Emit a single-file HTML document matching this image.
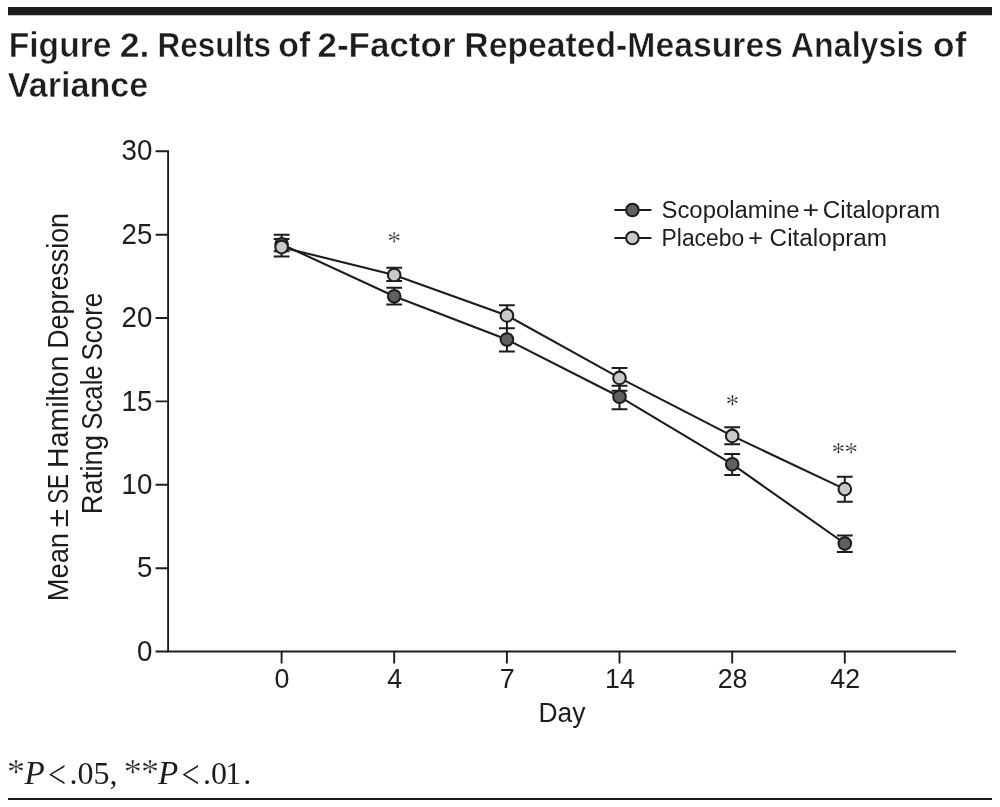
<!DOCTYPE html>
<html lang="en">
<head>
<meta charset="utf-8">
<title>Figure 2. Results of 2-Factor Repeated-Measures Analysis of Variance</title>
<style>
  html, body { margin: 0; padding: 0; background: #ffffff; }
  body { width: 1000px; height: 807px; overflow: hidden; position: relative; }
  svg { position: absolute; left: 0; top: 0; display: block; }
  .sans { font-family: "Liberation Sans", "DejaVu Sans", sans-serif; fill: #1d1d1b; }
  .serif { font-family: "Liberation Serif", "DejaVu Serif", serif; fill: #1d1d1b; }
  .title { font-weight: bold; font-size: 35px; stroke: #ffffff; stroke-width: 0.5px; }
  .ax { font-size: 28.6px; }
  .lg { font-size: 23px; }
  .ln { stroke: #1d1d1b; stroke-width: 2.1; fill: none; }
  .eb { stroke: #1d1d1b; stroke-width: 2; fill: none; }
  .dk { fill: #606060; stroke: #1d1d1b; stroke-width: 2.05; }
  .lt { fill: #c9c9c9; stroke: #1d1d1b; stroke-width: 2.05; }
</style>
</head>
<body>
<svg width="1000" height="807" viewBox="0 0 1000 807">
  <rect x="0" y="0" width="1000" height="807" fill="#ffffff"/>
  <!-- top and bottom rules -->
  <rect x="8" y="7" width="984" height="8.25" fill="#1d1d1b"/>
  <rect x="8" y="798" width="984" height="2" fill="#1d1d1b"/>

  <!-- title -->
  <text class="sans title" y="57.2" lengthAdjust="spacingAndGlyphs"><tspan x="8.7" textLength="102.8" lengthAdjust="spacingAndGlyphs">Figure</tspan> <tspan x="119.7" textLength="29.8" lengthAdjust="spacingAndGlyphs">2.</tspan> <tspan x="157.6" textLength="113.5" lengthAdjust="spacingAndGlyphs">Results</tspan> <tspan x="278.2" textLength="32" lengthAdjust="spacingAndGlyphs">of</tspan> <tspan x="317.5" textLength="138" lengthAdjust="spacingAndGlyphs">2-Factor</tspan> <tspan x="464.3" textLength="318.6" lengthAdjust="spacingAndGlyphs">Repeated-Measures</tspan> <tspan x="790.8" textLength="132.5" lengthAdjust="spacingAndGlyphs">Analysis</tspan> <tspan x="933.1" textLength="33.3" lengthAdjust="spacingAndGlyphs">of</tspan></text>
  <text class="sans title" x="7.8" y="97.2" textLength="140.4" lengthAdjust="spacingAndGlyphs">Variance</text>

  <!-- axes -->
  <g class="ln" id="axes" style="stroke-width:1.9">
    <path d="M168.1 150.3 V651.5 H956"/>
    <path d="M155.6 151.3 H168.1 M155.6 234.7 H168.1 M155.6 318.0 H168.1 M155.6 401.4 H168.1 M155.6 484.8 H168.1 M155.6 568.2 H168.1 M155.6 651.5 H168.1"/>
    <path d="M281.6 651.5 V663.4 M394.2 651.5 V663.4 M506.9 651.5 V663.4 M619.5 651.5 V663.4 M732.2 651.5 V663.4 M844.8 651.5 V663.4"/>
  </g>

  <!-- y tick labels -->
  <g class="sans ax" text-anchor="end">
    <text x="152.4" y="160.4" textLength="30.8" lengthAdjust="spacingAndGlyphs">30</text>
    <text x="152.4" y="243.8" textLength="30.8" lengthAdjust="spacingAndGlyphs">25</text>
    <text x="152.4" y="327.1" textLength="30.8" lengthAdjust="spacingAndGlyphs">20</text>
    <text x="152.4" y="410.5" textLength="30.8" lengthAdjust="spacingAndGlyphs">15</text>
    <text x="152.4" y="493.9" textLength="30.8" lengthAdjust="spacingAndGlyphs">10</text>
    <text x="152.4" y="577.3" textLength="15.4" lengthAdjust="spacingAndGlyphs">5</text>
    <text x="152.4" y="660.6" textLength="15.4" lengthAdjust="spacingAndGlyphs">0</text>
  </g>
  <!-- x tick labels -->
  <g class="sans ax" text-anchor="middle" style="font-size:27.3px">
    <text x="282" y="687.9" textLength="14.9" lengthAdjust="spacingAndGlyphs">0</text>
    <text x="394.6" y="687.9" textLength="14.9" lengthAdjust="spacingAndGlyphs">4</text>
    <text x="507.3" y="687.9" textLength="14.9" lengthAdjust="spacingAndGlyphs">7</text>
    <text x="619.9" y="687.9" textLength="29.8" lengthAdjust="spacingAndGlyphs">14</text>
    <text x="732.6" y="687.9" textLength="29.8" lengthAdjust="spacingAndGlyphs">28</text>
    <text x="845.2" y="687.9" textLength="29.8" lengthAdjust="spacingAndGlyphs">42</text>
  </g>
  <text class="sans ax" style="font-size:27px" x="538.4" y="721.9" textLength="47" lengthAdjust="spacingAndGlyphs">Day</text>

  <!-- y axis title -->
  <g class="sans ax">
    <text transform="translate(68.4 0) rotate(-90)" y="0"><tspan x="-601.3" textLength="68.3" lengthAdjust="spacingAndGlyphs">Mean</tspan> <tspan x="-527.3" textLength="18.3" lengthAdjust="spacingAndGlyphs">±</tspan> <tspan x="-503.8" textLength="29.8" lengthAdjust="spacingAndGlyphs">SE</tspan> <tspan x="-467.9" textLength="112.2" lengthAdjust="spacingAndGlyphs">Hamilton</tspan> <tspan x="-348.8" textLength="135.8" lengthAdjust="spacingAndGlyphs">Depression</tspan></text>
    <text transform="translate(101.8 0) rotate(-90)" y="0"><tspan x="-514.3" textLength="79.3" lengthAdjust="spacingAndGlyphs">Rating</tspan> <tspan x="-429.8" textLength="64.5" lengthAdjust="spacingAndGlyphs">Scale</tspan> <tspan x="-360.6" textLength="67.9" lengthAdjust="spacingAndGlyphs">Score</tspan></text>
  </g>

  <!-- series lines -->
  <polyline class="ln" points="281.6,244.2 394.2,296.3 506.9,339.5 619.5,396.7 732.2,464.2 844.8,543.5"/>
  <polyline class="ln" points="281.6,247.2 394.2,274.9 506.9,315.4 619.5,377.9 732.2,435.9 844.8,489.1"/>

  <!-- error bars: dark -->
  <g class="eb" id="eb-dark">
    <path d="M281.6 238.9 V251.3 M273.7 238.9 H289.5 M273.7 251.3 H289.5"/>
    <path d="M394.2 287.7 V304.5 M386.3 287.7 H402.1 M386.3 304.5 H402.1"/>
    <path d="M506.9 328.3 V351.6 M499 328.3 H514.8 M499 351.6 H514.8"/>
    <path d="M619.5 385.7 V409.3 M611.6 385.7 H627.4 M611.6 409.3 H627.4"/>
    <path d="M732.2 454 V475 M724.3 454 H740.1 M724.3 475 H740.1"/>
    <path d="M844.8 535.5 V552 M836.9 535.5 H852.7 M836.9 552 H852.7"/>
  </g>
  <!-- error bars: light -->
  <g class="eb" id="eb-light">
    <path d="M281.6 234.8 V256.5 M273.7 234.8 H289.5 M273.7 256.5 H289.5"/>
    <path d="M394.2 267.8 V281 M386.3 267.8 H402.1 M386.3 281 H402.1"/>
    <path d="M506.9 305.2 V328.3 M499 305.2 H514.8"/>
    <path d="M619.5 367.9 V390.8 M611.6 367.9 H627.4 M611.6 390.8 H627.4"/>
    <path d="M732.2 427.3 V444.2 M724.3 427.3 H740.1 M724.3 444.2 H740.1"/>
    <path d="M844.8 476.7 V501.8 M836.9 476.7 H852.7 M836.9 501.8 H852.7"/>
  </g>

  <!-- markers -->
  <g class="dk">
    <circle cx="281.6" cy="244.2" r="6.3"/>
    <circle cx="394.2" cy="296.3" r="6.3"/>
    <circle cx="506.9" cy="339.5" r="6.3"/>
    <circle cx="619.5" cy="396.7" r="6.3"/>
    <circle cx="732.2" cy="464.2" r="6.3"/>
    <circle cx="844.8" cy="543.5" r="6.3"/>
  </g>
  <g class="lt">
    <circle cx="281.6" cy="247.1" r="6.3"/>
    <circle cx="394.2" cy="274.9" r="6.3"/>
    <circle cx="506.9" cy="315.4" r="6.3"/>
    <circle cx="619.5" cy="377.9" r="6.3"/>
    <circle cx="732.2" cy="435.9" r="6.3"/>
    <circle cx="844.8" cy="489.1" r="6.3"/>
  </g>

  <!-- significance marks -->
  <g class="serif" font-size="27.5" text-anchor="middle" stroke="#ffffff" stroke-width="0.3">
    <text x="394.2" y="250.1">*</text>
    <text x="732.3" y="412.7">*</text>
    <text y="461.1"><tspan x="838.4">*</tspan><tspan x="851">*</tspan></text>
  </g>

  <!-- legend -->
  <path class="ln" d="M614.4 210 H651.4 M614.4 238 H651.4"/>
  <circle class="dk" cx="632.4" cy="210" r="6.3"/>
  <circle class="lt" cx="632.4" cy="238" r="6.3"/>
  <text class="sans lg" y="217.6"><tspan x="661.5" textLength="138" lengthAdjust="spacingAndGlyphs">Scopolamine</tspan> <tspan x="802.4" textLength="16.6" lengthAdjust="spacingAndGlyphs">+</tspan> <tspan x="822.8" textLength="117.4" lengthAdjust="spacingAndGlyphs">Citalopram</tspan></text>
  <text class="sans lg" y="246.2"><tspan x="661.6" textLength="82.5" lengthAdjust="spacingAndGlyphs">Placebo</tspan> <tspan x="748" textLength="15" lengthAdjust="spacingAndGlyphs">+</tspan> <tspan x="769.6" textLength="117.4" lengthAdjust="spacingAndGlyphs">Citalopram</tspan></text>

  <!-- footnote -->
  <g class="serif" font-size="32">
    <text x="16.1" y="784" font-size="36" text-anchor="middle" stroke="#ffffff" stroke-width="0.35">*</text>
    <text x="24.6" y="783.5" font-size="33.2" font-style="italic">P</text>
    <text transform="translate(48 788.4) scale(1 1.22)" x="0" y="0">&lt;</text>
    <text x="69.5" y="783.5">.05,</text>
    <text y="784" font-size="36" text-anchor="middle" stroke="#ffffff" stroke-width="0.35"><tspan x="132.8">*</tspan><tspan x="150">*</tspan></text>
    <text x="158" y="783.5" font-size="33.2" font-style="italic">P</text>
    <text transform="translate(181.5 788.4) scale(1 1.22)" x="0" y="0">&lt;</text>
    <text x="203" y="783.5">.0<tspan x="225.3">1</tspan><tspan x="243.2">.</tspan></text>
  </g>
</svg>
</body>
</html>
